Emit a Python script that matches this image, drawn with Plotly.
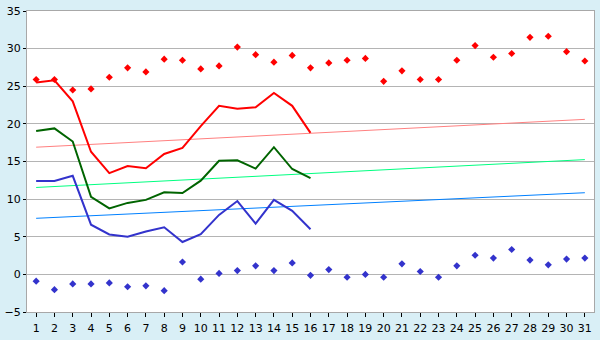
import plotly.graph_objects as go

days = list(range(1, 32))

max_pts = [25.9, 25.9, 24.5, 24.65, 26.2, 27.45, 26.9, 28.6, 28.45, 27.3, 27.7, 30.2, 29.2, 28.2, 29.1,
           27.45, 28.1, 28.45, 28.7, 25.65, 27.05, 25.9, 25.9, 28.45, 30.4, 28.85, 29.35, 31.5, 31.65, 29.6, 28.35]
min_pts = [-0.9, -2.03, -1.27, -1.27, -1.14, -1.65, -1.52, -2.16, 1.65, -0.64, 0.13, 0.5, 1.14, 0.5, 1.52,
           -0.13, 0.64, -0.38, 0.0, -0.38, 1.4, 0.38, -0.38, 1.14, 2.54, 2.16, 3.3, 1.9, 1.27, 2.03, 2.16]

line_days = list(range(1, 17))
red_line = [25.5, 25.8, 23.0, 16.3, 13.45, 14.4, 14.1, 16.0, 16.8, 19.7, 22.4, 22.0, 22.2, 24.1, 22.4, 18.8]
green_line = [19.05, 19.4, 17.65, 10.3, 8.77, 9.5, 9.9, 10.9, 10.8, 12.45, 15.1, 15.15, 14.05, 16.9, 14.0, 12.8]
blue_line = [12.4, 12.4, 13.1, 6.6, 5.3, 5.0, 5.7, 6.25, 4.3, 5.35, 7.9, 9.75, 6.75, 9.9, 8.45, 6.0]

trend_days = [1, 31]
red_trend = [16.9, 20.6]
green_trend = [11.55, 15.25]
blue_trend = [7.45, 10.85]

fig = go.Figure()
fig.add_trace(go.Scatter(x=trend_days, y=red_trend, mode="lines", line=dict(color="#FF8080", width=1)))
fig.add_trace(go.Scatter(x=trend_days, y=green_trend, mode="lines", line=dict(color="#00FF80", width=1)))
fig.add_trace(go.Scatter(x=trend_days, y=blue_trend, mode="lines", line=dict(color="#0080FF", width=1)))
fig.add_trace(go.Scatter(x=line_days, y=red_line, mode="lines", line=dict(color="#FF0000", width=2)))
fig.add_trace(go.Scatter(x=line_days, y=green_line, mode="lines", line=dict(color="#006400", width=2)))
fig.add_trace(go.Scatter(x=line_days, y=blue_line, mode="lines", line=dict(color="#3333CC", width=2)))
fig.add_trace(go.Scatter(x=days, y=max_pts, mode="markers",
                         marker=dict(symbol="diamond", size=5.5, color="#FF0000")))
fig.add_trace(go.Scatter(x=days, y=min_pts, mode="markers",
                         marker=dict(symbol="diamond", size=5.5, color="#3333CC")))

fig.update_layout(
    width=600, height=340,
    margin=dict(l=21, r=5, t=5, b=20),
    paper_bgcolor="#D9EFF6",
    plot_bgcolor="#FFFFFF",
    showlegend=False,
    font=dict(family="DejaVu Sans", size=11, color="#000000"),
)
fig.update_xaxes(range=[0.5, 31.5], tickmode="linear", tick0=1, dtick=1,
                 showgrid=False, zeroline=False, showline=True, mirror=True,
                 linecolor="#A8A8A8", linewidth=1, ticklabeloverflow="allow",
                 ticks="outside", ticklen=4, tickcolor="#000000", ticklabelstandoff=2)
fig.update_yaxes(range=[-5, 35], tickmode="linear", tick0=-5, dtick=5,
                 showgrid=True, gridcolor="#B4B4B4", gridwidth=1, zeroline=False,
                 showline=True, mirror=True, linecolor="#A8A8A8", linewidth=1,
                 ticklabeloverflow="allow",
                 ticks="outside", ticklen=3, tickcolor="#000000")

fig.write_html("out.html")
